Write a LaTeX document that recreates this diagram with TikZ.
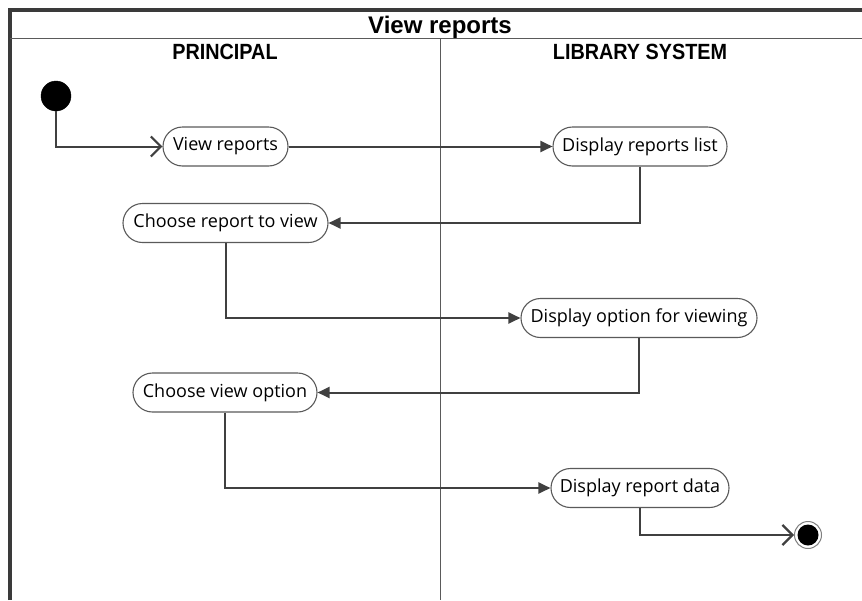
\documentclass[tikz,border=0pt]{standalone}
\usepackage{fontspec}
\setmainfont{Open Sans}
\newfontfamily\hdfont{Liberation Sans}
\newfontfamily\hdnarrow[FakeStretch=0.9]{Liberation Sans}
\usetikzlibrary{arrows.meta}
\definecolor{linegray}{HTML}{404040}
\definecolor{nodegray}{HTML}{5A5A5A}
\definecolor{framegray}{HTML}{3A3A3A}
\begin{document}
\begin{tikzpicture}[x=1pt,y=-1pt,
  act/.style={draw=nodegray, line width=1.1pt, rounded corners=19.5pt, minimum height=39pt, inner sep=0pt, fill=white, font=\fontsize{18}{20}\selectfont},
  flow/.style={draw=linegray, line width=2pt, -{Triangle[length=12pt,width=11pt]}},
  openflow/.style={draw=linegray, line width=2pt, -{Straight Barb[length=10pt,width=20pt,line width=2.2pt]}},
  hd/.style={font=\hdnarrow\bfseries\fontsize{22}{24}\selectfont, inner sep=0pt, anchor=base},
  sep/.style={draw=nodegray, line width=1pt}
]
\useasboundingbox (0,0) rectangle (862,600);
% frame
\draw[framegray, line width=3.5pt] (10,600) -- (10,10) -- (862,10);
\draw[sep] (10,38) -- (862,38);
\draw[sep] (440,38) -- (440,600);
% headers
\node[hd, font=\hdfont\bfseries\fontsize{24}{26}\selectfont] (title) at (440,33) {View reports};
\node[hd] (lane1) at (225,59.5) {PRINCIPAL};
\node[hd] (lane2) at (640,59.5) {LIBRARY SYSTEM};
% nodes
\node[circle, fill=black, draw=black, minimum size=30pt, inner sep=0pt] (start) at (56,96) {};
\node[act, minimum width=125pt] (vr) at (225.5,146.5) {View reports};
\node[act, minimum width=174pt] (drl) at (640,146.5) {Display reports list};
\node[act, minimum width=205pt] (crv) at (225.5,223) {Choose report to view};
\node[act, minimum width=236pt] (dov) at (639,318) {Display option for viewing};
\node[act, minimum width=184pt] (cvo) at (225,392.5) {Choose view option};
\node[act, minimum width=178pt] (drd) at (640,488) {Display report data};
\node[circle, draw=gray, line width=1pt, fill=white, minimum size=27pt, inner sep=0pt] (end) at (808,535) {};
\fill[black] (end.center) circle (10.5pt);
% connectors
\draw[openflow] (start.south) |- (vr.west);
\draw[flow] (vr.east) -- (drl.west);
\draw[flow] (drl.south) |- (crv.east);
\draw[flow] (crv.south) |- (dov.west);
\draw[flow] (dov.south) |- (cvo.east);
\draw[flow] (cvo.south) |- (drd.west);
\draw[openflow] (drd.south) |- (end.west);
\end{tikzpicture}
\end{document}
